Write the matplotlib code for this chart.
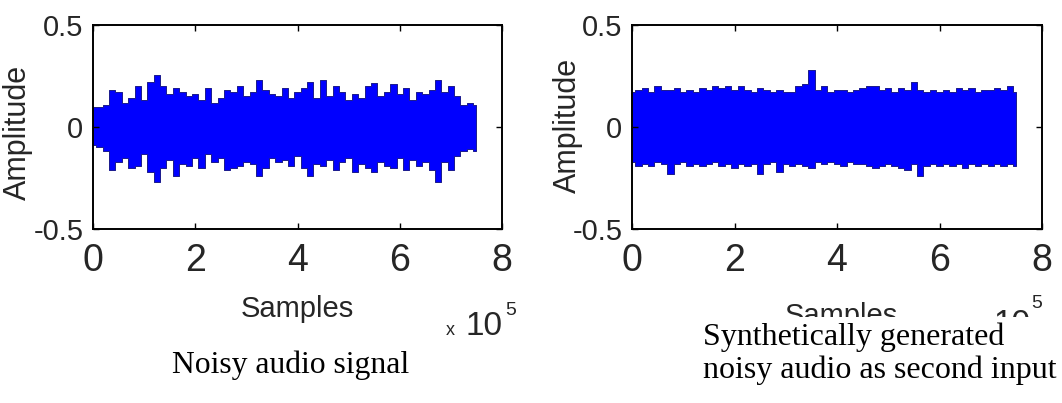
import numpy as np
import matplotlib
matplotlib.use("Agg")
from matplotlib import pyplot as plt
from matplotlib.patches import Rectangle

# Envelope of each waveform (amplitude, every 0.125 x 10^5 samples)
noisy_upper = [0.10, 0.10, 0.11, 0.18, 0.17, 0.12, 0.14, 0.20, 0.13, 0.22, 0.255, 0.20, 0.16,
               0.19, 0.17, 0.15, 0.16, 0.13, 0.19, 0.12, 0.14, 0.18, 0.17, 0.20, 0.15, 0.17,
               0.23, 0.18, 0.16, 0.15, 0.19, 0.14, 0.17, 0.19, 0.22, 0.14, 0.23, 0.15, 0.20,
               0.17, 0.13, 0.16, 0.14, 0.20, 0.215, 0.15, 0.17, 0.21, 0.16, 0.19, 0.13, 0.17,
               0.16, 0.18, 0.23, 0.17, 0.20, 0.15, 0.11, 0.12, 0.11]
noisy_lower = [-0.09, -0.10, -0.12, -0.21, -0.17, -0.15, -0.20, -0.19, -0.13, -0.22, -0.27, -0.20,
               -0.16, -0.24, -0.18, -0.19, -0.15, -0.20, -0.13, -0.17, -0.15, -0.21, -0.20, -0.19,
               -0.17, -0.18, -0.24, -0.20, -0.15, -0.17, -0.16, -0.19, -0.14, -0.20, -0.24, -0.18,
               -0.19, -0.16, -0.21, -0.17, -0.15, -0.22, -0.18, -0.20, -0.22, -0.17, -0.19, -0.20,
               -0.15, -0.21, -0.16, -0.19, -0.17, -0.21, -0.27, -0.17, -0.21, -0.14, -0.12, -0.11,
               -0.12]
synth_upper = [0.17, 0.18, 0.19, 0.17, 0.20, 0.18, 0.18, 0.19, 0.17, 0.18, 0.17, 0.19, 0.18,
               0.20, 0.19, 0.20, 0.18, 0.20, 0.18, 0.17, 0.19, 0.18, 0.17, 0.18, 0.17, 0.17,
               0.20, 0.21, 0.28, 0.18, 0.20, 0.17, 0.18, 0.18, 0.17, 0.18, 0.19, 0.20, 0.20,
               0.18, 0.19, 0.17, 0.19, 0.18, 0.22, 0.18, 0.17, 0.18, 0.17, 0.18, 0.17, 0.19,
               0.18, 0.19, 0.17, 0.18, 0.18, 0.19, 0.18, 0.20, 0.17]
synth_lower = [-0.17, -0.19, -0.18, -0.19, -0.17, -0.18, -0.23, -0.18, -0.17, -0.19, -0.18, -0.19,
               -0.18, -0.17, -0.19, -0.18, -0.20, -0.18, -0.19, -0.18, -0.23, -0.18, -0.17, -0.22,
               -0.18, -0.19, -0.18, -0.19, -0.20, -0.17, -0.18, -0.17, -0.18, -0.19, -0.17, -0.18,
               -0.18, -0.19, -0.20, -0.19, -0.18, -0.19, -0.20, -0.21, -0.18, -0.24, -0.19, -0.18,
               -0.19, -0.18, -0.19, -0.18, -0.20, -0.18, -0.19, -0.18, -0.19, -0.18, -0.19, -0.18,
               -0.19]
last_sample = 7.5  # x 10^5

x_ticks = [0, 2, 4, 6, 8]
y_ticks = [-0.5, 0, 0.5]
y_tick_labels = ['-0.5', '0', '0.5']
caption_left = 'Noisy audio signal'
caption_right = ['Synthetically generated', 'noisy audio as second input']

sans = ['Liberation Sans', 'DejaVu Sans']
serif = ['Liberation Serif', 'DejaVu Serif']
label_color = '#262626'

fig = plt.figure(figsize=(10.62, 4.03), dpi=100)
W, H = 1062, 403


def px_axes(left, top, right, bottom):
    return fig.add_axes([left / W, (H - bottom) / H, (right - left) / W, (bottom - top) / H])


ax1 = px_axes(93, 25, 502, 229)
ax2 = px_axes(632, 25, 1042, 229)

for ax, upper, lower in [(ax1, noisy_upper, noisy_lower), (ax2, synth_upper, synth_lower)]:
    samples = np.linspace(0, last_sample, len(upper))
    ax.fill_between(samples, lower, upper, step='mid', facecolor='#0000ff',
                    edgecolor='#1a1a8c', linewidth=0.7)
    ax.set_xlim(0, 8)
    ax.set_ylim(-0.5, 0.5)
    ax.set_xticks(x_ticks)
    ax.set_xticklabels([str(t) for t in x_ticks], fontsize=27, family=sans, color=label_color)
    ax.set_yticks(y_ticks)
    ax.set_yticklabels(y_tick_labels, fontsize=21, family=sans, color=label_color)
    ax.tick_params(axis='x', direction='in', length=4, width=1, pad=10, top=True)
    ax.tick_params(axis='y', direction='in', length=4, width=1, pad=7, right=True)
    for spine in ax.spines.values():
        spine.set_linewidth(1.4)
    ax.set_ylabel('Amplitude', fontsize=22, family=sans, color=label_color)
    ax.set_xlabel('Samples', fontsize=21, family=sans, color=label_color, va='top')

ax1.yaxis.set_label_coords(-0.147, 0.475)
ax2.yaxis.set_label_coords(-0.12, 0.51)
ax1.xaxis.set_label_coords(0.499, -0.324)
ax2.xaxis.set_label_coords(0.51, -0.36)

# "x 10^5" exponent markers
ax1.text(0.885, -0.52, 'x', transform=ax1.transAxes, fontsize=13, family=sans,
         color=label_color, ha='right', va='baseline')
ax1.text(1.0, -0.52, '10', transform=ax1.transAxes, fontsize=24, family=sans,
         color=label_color, ha='right', va='baseline')
ax1.text(1.007, -0.36, '5', transform=ax1.transAxes, fontsize=14, family=sans,
         color=label_color, ha='left', va='top')
ax2.text(0.971, -0.51, '10', transform=ax2.transAxes, fontsize=24, family=sans,
         color=label_color, ha='right', va='baseline')
ax2.text(0.973, -0.322, '5', transform=ax2.transAxes, fontsize=14, family=sans,
         color=label_color, ha='left', va='top')

# white block that the caption sits in, hiding the lower part of the right labels
fig.add_artist(Rectangle((680 / W, 0), 1 - 680 / W, (H - 317) / H, transform=fig.transFigure,
                         facecolor='white', edgecolor='none', zorder=5))

fig.text(172 / W, (H - 373) / H, caption_left, fontsize=22.8, family=serif,
         ha='left', va='baseline', zorder=6)
fig.text(703 / W, (H - 345) / H, caption_right[0], fontsize=23, family=serif,
         ha='left', va='baseline', zorder=6)
fig.text(703 / W, (H - 378) / H, caption_right[1], fontsize=23, family=serif,
         ha='left', va='baseline', zorder=6)

fig.savefig('out.png', dpi=100)
